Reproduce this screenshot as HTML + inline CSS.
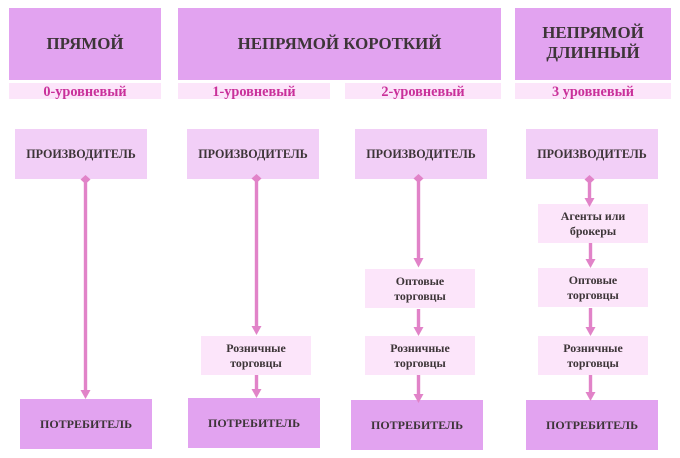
<!DOCTYPE html>
<html>
<head>
<meta charset="utf-8">
<style>
html,body{margin:0;padding:0;background:#fff}
body{width:680px;height:458px;overflow:hidden;position:relative;font-family:"Liberation Serif",serif;font-weight:bold;color:#3d3538}
.b{position:absolute;display:flex;align-items:center;justify-content:center;text-align:center;white-space:nowrap}
.t{background:#e2a3f0;font-size:16.9px;line-height:20px}
.t span{position:relative;top:-1.5px}
.s{background:#fce5fa;color:#c9309a;font-size:14.3px;line-height:16px;height:16px;top:83px}
.s span{position:relative;top:1px}
.p{background:#f2cff7;font-size:12.1px;width:132px;height:50px;top:129px}
.c{background:#e2a3f0;font-size:12px;width:132px;height:50px}
.m{background:#fce5fa;font-size:11.9px;line-height:15.5px;width:110px;height:39px}
.m span{position:relative;top:.5px}
svg{position:absolute;left:0;top:0}
</style>
</head>
<body>
<div class="b t" style="left:9px;top:8px;width:152px;height:72px">ПРЯМОЙ</div>
<div class="b t" style="left:178px;top:8px;width:323px;height:72px">НЕПРЯМОЙ КОРОТКИЙ</div>
<div class="b t" style="left:515px;top:8px;width:156px;height:72px"><span>НЕПРЯМОЙ<br>ДЛИННЫЙ</span></div>

<div class="b s" style="left:9px;width:152px"><span>0-уровневый</span></div>
<div class="b s" style="left:178px;width:152px"><span>1-уровневый</span></div>
<div class="b s" style="left:345px;width:156px"><span>2-уровневый</span></div>
<div class="b s" style="left:515px;width:156px"><span>3 уровневый</span></div>

<div class="b p" style="left:15px">ПРОИЗВОДИТЕЛЬ</div>
<div class="b p" style="left:187px">ПРОИЗВОДИТЕЛЬ</div>
<div class="b p" style="left:355px">ПРОИЗВОДИТЕЛЬ</div>
<div class="b p" style="left:526px">ПРОИЗВОДИТЕЛЬ</div>

<div class="b m" style="left:201px;top:336px"><span>Розничные<br>торговцы</span></div>
<div class="b m" style="left:365px;top:269px"><span>Оптовые<br>торговцы</span></div>
<div class="b m" style="left:365px;top:336px"><span>Розничные<br>торговцы</span></div>
<div class="b m" style="left:538px;top:204px"><span>Агенты или<br>брокеры</span></div>
<div class="b m" style="left:538px;top:268px"><span>Оптовые<br>торговцы</span></div>
<div class="b m" style="left:538px;top:336px"><span>Розничные<br>торговцы</span></div>

<div class="b c" style="left:20px;top:399px">ПОТРЕБИТЕЛЬ</div>
<div class="b c" style="left:188px;top:398px">ПОТРЕБИТЕЛЬ</div>
<div class="b c" style="left:351px;top:400px">ПОТРЕБИТЕЛЬ</div>
<div class="b c" style="left:526px;top:400px">ПОТРЕБИТЕЛЬ</div>

<svg width="680" height="458" viewBox="0 0 680 458" fill="#e183c8" stroke="none">
<!-- column 1 -->
<rect x="83.8" y="179" width="3.4" height="213"/>
<polygon points="85.5,175 90.5,179.5 85.5,184 80.5,179.5"/>
<polygon points="80.5,390 90.5,390 85.5,399"/>
<!-- column 2 -->
<rect x="254.8" y="179" width="3.4" height="149"/>
<polygon points="256.5,174 261.5,178.5 256.5,183 251.5,178.5"/>
<polygon points="251.5,326 261.5,326 256.5,335"/>
<rect x="254.8" y="375" width="3.4" height="16"/>
<polygon points="251.5,389 261.5,389 256.5,398"/>
<!-- column 3 -->
<rect x="416.8" y="179" width="3.4" height="81"/>
<polygon points="418.5,174 423.5,178.5 418.5,183 413.5,178.5"/>
<polygon points="413.5,258 423.5,258 418.5,267.5"/>
<rect x="416.8" y="309" width="3.4" height="20"/>
<polygon points="413.5,327 423.5,327 418.5,336"/>
<rect x="416.8" y="375" width="3.4" height="20"/>
<polygon points="413.5,394 423.5,394 418.5,403"/>
<!-- column 4 -->
<rect x="587.8" y="179" width="3.4" height="20"/>
<polygon points="589.5,175 594.5,179.5 589.5,184 584.5,179.5"/>
<polygon points="584.5,198 594.5,198 589.5,207"/>
<rect x="588.8" y="243" width="3.4" height="18"/>
<polygon points="585.5,259 595.5,259 590.5,268"/>
<rect x="588.8" y="308" width="3.4" height="21"/>
<polygon points="585.5,327 595.5,327 590.5,336"/>
<rect x="588.8" y="375" width="3.4" height="19"/>
<polygon points="585.5,392 595.5,392 590.5,401"/>
</svg>
</body>
</html>
